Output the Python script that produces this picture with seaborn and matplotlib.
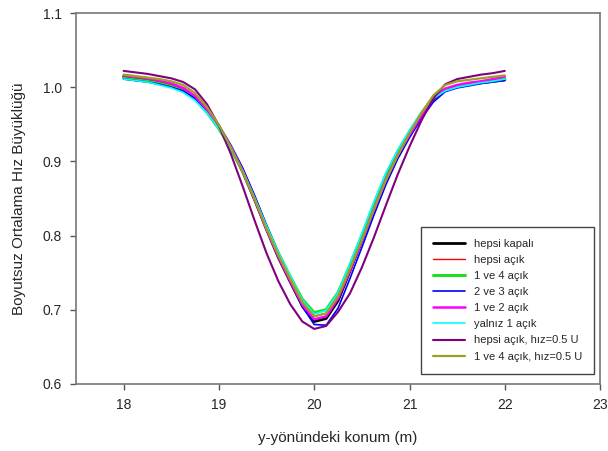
import numpy as np
import pandas as pd
import matplotlib
matplotlib.use("Agg")
import matplotlib.pyplot as plt
import seaborn as sns

# konum (m), 0.125 m aralikla okunan degerler
konum = [18.0, 18.125, 18.25, 18.375, 18.5, 18.625, 18.75, 18.875,
         19.0, 19.125, 19.25, 19.375, 19.5, 19.625, 19.75, 19.875,
         20.0, 20.125, 20.25, 20.375, 20.5, 20.625, 20.75, 20.875,
         21.0, 21.125, 21.25, 21.375, 21.5, 21.625, 21.75, 21.875, 22.0]

hepsi_kapali = [1.014, 1.012, 1.010, 1.007, 1.004, 0.998, 0.986, 0.968,
                0.946, 0.918, 0.886, 0.848, 0.808, 0.770, 0.737, 0.705,
                0.684, 0.688, 0.712, 0.752, 0.793, 0.836, 0.877, 0.910,
                0.938, 0.963, 0.984, 0.997, 1.002, 1.004, 1.006, 1.008, 1.010]
hepsi_acik = [1.015, 1.013, 1.011, 1.008, 1.004, 0.998, 0.987, 0.969,
              0.947, 0.919, 0.887, 0.849, 0.809, 0.772, 0.740, 0.710,
              0.691, 0.695, 0.718, 0.755, 0.794, 0.836, 0.876, 0.909,
              0.937, 0.963, 0.985, 0.998, 1.003, 1.005, 1.007, 1.009, 1.012]
bir_dort_acik = [1.012, 1.010, 1.008, 1.005, 1.001, 0.995, 0.984, 0.966,
                 0.944, 0.917, 0.887, 0.850, 0.812, 0.776, 0.744, 0.714,
                 0.696, 0.700, 0.723, 0.760, 0.800, 0.842, 0.881, 0.913,
                 0.940, 0.965, 0.986, 0.997, 1.001, 1.003, 1.006, 1.008, 1.011]
iki_uc_acik = [1.011, 1.009, 1.007, 1.004, 1.000, 0.995, 0.985, 0.969,
               0.949, 0.922, 0.891, 0.854, 0.814, 0.776, 0.740, 0.704,
               0.680, 0.679, 0.702, 0.742, 0.784, 0.827, 0.868, 0.903,
               0.932, 0.958, 0.980, 0.994, 0.999, 1.002, 1.005, 1.007, 1.009]
bir_iki_acik = [1.016, 1.014, 1.012, 1.009, 1.005, 0.999, 0.988, 0.970,
                0.947, 0.919, 0.887, 0.849, 0.808, 0.771, 0.738, 0.707,
                0.687, 0.691, 0.715, 0.753, 0.793, 0.835, 0.875, 0.908,
                0.936, 0.962, 0.985, 0.998, 1.003, 1.006, 1.008, 1.011, 1.014]
yalniz_bir = [1.011, 1.009, 1.007, 1.003, 0.999, 0.993, 0.982, 0.965,
              0.944, 0.917, 0.887, 0.851, 0.813, 0.777, 0.745, 0.713,
              0.694, 0.699, 0.723, 0.762, 0.803, 0.845, 0.884, 0.915,
              0.942, 0.966, 0.985, 0.995, 1.000, 1.003, 1.006, 1.008, 1.011]
hepsi_acik_yarim = [1.022, 1.020, 1.018, 1.015, 1.012, 1.007, 0.997, 0.977,
                    0.948, 0.910, 0.866, 0.820, 0.776, 0.738, 0.707, 0.684,
                    0.674, 0.678, 0.697, 0.722, 0.757, 0.797, 0.840, 0.882,
                    0.920, 0.955, 0.985, 1.004, 1.011, 1.014, 1.017, 1.019, 1.022]
bir_dort_yarim = [1.017, 1.015, 1.013, 1.011, 1.008, 1.003, 0.992, 0.973,
                  0.949, 0.919, 0.886, 0.849, 0.809, 0.773, 0.741, 0.710,
                  0.691, 0.695, 0.718, 0.755, 0.794, 0.835, 0.874, 0.908,
                  0.938, 0.965, 0.989, 1.003, 1.008, 1.010, 1.012, 1.014, 1.016]

seriler = [
    ("hepsi kapalı", hepsi_kapali, "#000000", 2.0),
    ("hepsi açık", hepsi_acik, "#ff0000", 1.0),
    ("1 ve 4 açık", bir_dort_acik, "#22dd22", 2.2),
    ("2 ve 3 açık", iki_uc_acik, "#0000ff", 1.2),
    ("1 ve 2 açık", bir_iki_acik, "#ff00ff", 1.8),
    ("yalnız 1 açık", yalniz_bir, "#00ffff", 1.2),
    ("hepsi açık, hız=0.5 U", hepsi_acik_yarim, "#800080", 1.5),
    ("1 ve 4 açık, hız=0.5 U", bir_dort_yarim, "#a0a020", 1.6),
]

sns.set_theme(style="white")
plt.rcParams["font.family"] = ["Liberation Sans", "DejaVu Sans"]

fig = plt.figure(figsize=(6.08, 4.51), dpi=100)
ax = fig.add_axes([0.125, 0.149, 0.862, 0.822])

for ad, deger, renk, kalinlik in seriler:
    df = pd.DataFrame({"konum": konum, "hiz": deger})
    sns.lineplot(data=df, x="konum", y="hiz", color=renk, lw=kalinlik,
                 label=ad, ax=ax, sort=False)

ax.set_xlim(17.5, 23)
ax.set_ylim(0.6, 1.1)
ax.set_xticks([18, 19, 20, 21, 22, 23])
ax.set_yticks([0.6, 0.7, 0.8, 0.9, 1.0, 1.1])
ax.set_yticklabels(["0.6", "0.7", "0.8", "0.9", "1.0", "1.1"])
ax.tick_params(axis="both", direction="out", length=4, width=1, color="#555555",
               labelsize=10, bottom=True, left=True, pad=6)
for s in ax.spines.values():
    s.set_color("#777777")
    s.set_linewidth(1.2)

ax.set_xlabel("y-yönündeki konum (m)", fontsize=11, labelpad=14)
ax.set_ylabel("Boyutsuz Ortalama Hız Büyüklüğü", fontsize=11, labelpad=12)

leg = ax.legend(loc="lower right", bbox_to_anchor=(0.989, 0.027), fontsize=8,
                frameon=True, fancybox=False, framealpha=1, edgecolor="#444444",
                handlelength=2.9, handletextpad=0.8, labelspacing=0.55,
                borderpad=1.1, borderaxespad=0)
leg.get_frame().set_linewidth(1.0)

fig.savefig("out.png", dpi=100)
plt.close(fig)
